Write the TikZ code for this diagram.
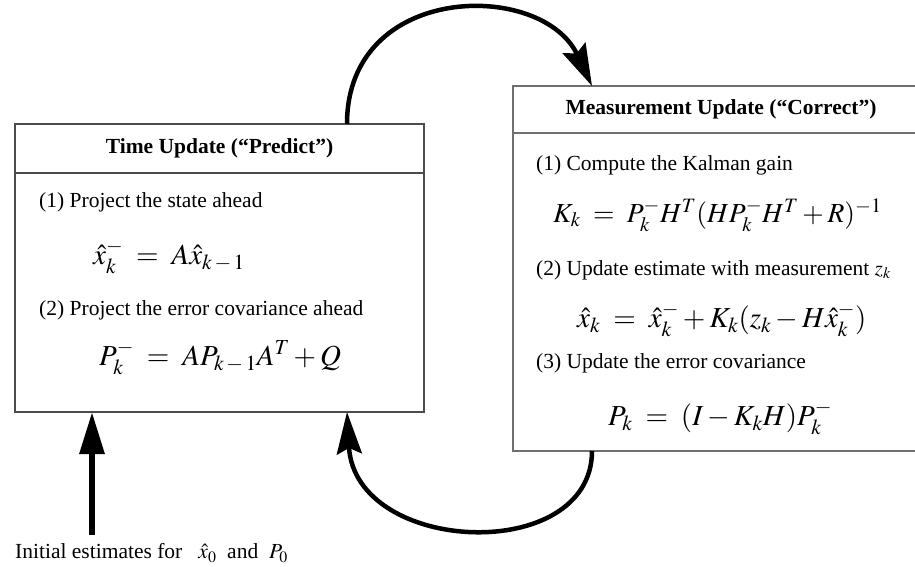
\documentclass[tikz,border=0pt]{standalone}
\usepackage{mathptmx}
\usepackage{fontspec}
\setmainfont{Liberation Serif}
\usetikzlibrary{positioning,arrows.meta}
\definecolor{boxline}{gray}{0.3}

\tikzset{
  headbox/.style={draw=boxline, line width=1.3pt, inner sep=0pt, outer sep=0pt, font=\bfseries\fontsize{21.5}{24}\selectfont},
  bodybox/.style={draw=boxline, line width=1.3pt, inner sep=0pt, outer sep=0pt},
  steptext/.style={anchor=west, inner sep=0pt, font=\fontsize{21.5}{24}\selectfont},
  eqtext/.style={anchor=west, inner sep=0pt, font=\fontsize{29}{32}\selectfont},
  loop arrow/.style={line width=4.5pt, -{Stealth[length=42pt,width=25pt,inset=6pt]}},
}

\begin{document}
\begin{tikzpicture}[x=1pt, y=-1pt]
        \useasboundingbox (0,0) rectangle (915,567);
        \clip (0,0) rectangle (915,567);
        % time update box
        \node[headbox, minimum width=409pt, minimum height=49pt] (predicthead) at (219.5,148.5) {Time Update (“Predict”)};
        \node[bodybox, minimum width=409pt, minimum height=239pt, below=0pt of predicthead] (predictbody) {};
        \node[steptext] (p1) at (39,202) {(1) Project the state ahead};
        \node[eqtext] (p1eq) at (93,257) {$\hat{x}^{-}_{k} \;=\; A\hat{x}_{k\,-\,1}$};
        \node[steptext] (p2) at (39,310) {(2) Project the error covariance ahead};
        \node[eqtext] (p2eq) at (99,358) {$P^{-}_{k} \;=\; AP_{k\,-\,1}A^{T}+Q$};

        % measurement update box
        \node[headbox, draw=boxline!80, minimum width=416pt, minimum height=47pt] (correcthead) at (721,109.5) {Measurement Update (“Correct”)};
        \node[bodybox, draw=boxline!80, minimum width=416pt, minimum height=318pt, below=0pt of correcthead] (correctbody) {};
        \node[steptext] (c1) at (536,165) {(1) Compute the Kalman gain};
        \node[eqtext, font=\fontsize{27.6}{31}\selectfont] (c1eq) at (553,215) {$K_{k} \;=\; P^{-}_{k}H^{T}(HP^{-}_{k}H^{T}+R)^{-1}$};
        \node[steptext] (c2) at (536,270) {(2) Update estimate with measurement $z_{k}$};
        \node[eqtext] (c2eq) at (577,320) {$\hat{x}_{k} \;=\; \hat{x}^{-}_{k}+K_{k}(z_{k}-H\hat{x}^{-}_{k})$};
        \node[steptext] (c3) at (536,363) {(3) Update the error covariance};
        \node[eqtext] (c3eq) at (608,418) {$P_{k} \;=\; (I-K_{k}H)P^{-}_{k}$};

        % initial estimates
        \node[steptext] (initlabel) at (15,553) {Initial estimates for\enspace\ $\hat{x}_{0}$\enspace and\enspace $P_{0}$};
        \coordinate (initstart) at (92,535);
        \path[draw, line width=6pt, -{Triangle[length=42pt,width=24pt]}](initstart)--([xshift=-127.5pt]predictbody.south);

        % loop
        \path[draw, loop arrow]([xshift=127.5pt]predicthead.north) .. controls +(0,-142) and +(-50,-106) .. ([xshift=-129pt]correcthead.north);
        \path[draw, loop arrow]([xshift=-129pt]correctbody.south) .. controls +(0,114) and +(8,143) .. ([xshift=127.5pt]predictbody.south);
\end{tikzpicture}
\end{document}
